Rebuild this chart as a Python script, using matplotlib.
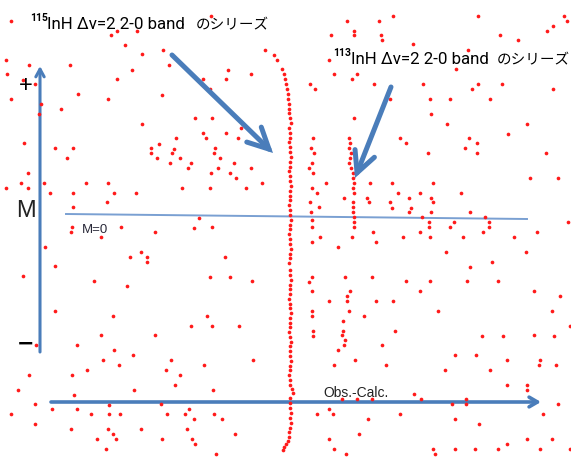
import matplotlib
matplotlib.use('Agg')
import matplotlib.pyplot as plt

# Loomis-Wood style plot: Obs.-Calc. (horizontal) against M (vertical)

# 115InH dv=2 2-0 band series (the long, nearly vertical chain)
series115_x = [265, 274, 277, 282, 284, 285, 286, 287, 288, 288,
               289, 289, 289, 290, 291, 289, 290, 290, 289, 290,
               290, 291, 290, 290, 289, 290, 290, 291, 290, 290,
               290, 289, 290, 290, 291, 290, 290, 289, 290, 290,
               291, 290, 290, 289, 290, 290, 291, 290, 290, 290,
               289, 290, 290, 291, 290, 290, 290, 289, 290, 291,
               290, 290, 290, 291, 290, 290, 289, 290, 290, 292,
               293, 290, 290, 290, 291, 290, 291, 290, 289, 289,
               288, 286, 284, 283]
series115_y = [50, 55, 60, 69, 74, 79, 84, 89, 94, 99,
               104, 109, 113, 118, 123, 128, 133, 138, 142, 147,
               152, 157, 162, 167, 171, 176, 181, 186, 191, 196,
               200, 205, 210, 215, 220, 225, 229, 234, 239, 244,
               249, 254, 258, 263, 270, 275, 280, 285, 289, 294,
               299, 304, 308, 313, 318, 323, 327, 332, 337, 342,
               346, 351, 356, 361, 366, 370, 375, 380, 385, 389,
               393, 398, 403, 408, 413, 418, 423, 428, 432, 437,
               441, 444, 447, 450]

# 113InH dv=2 2-0 band series
series113_x = [354, 349, 350, 349, 351, 350, 349, 351, 353, 353, 354, 353, 354,
               353, 353, 353, 354, 354, 354, 352, 345, 350, 347, 347, 349, 343,
               343, 342, 345, 344, 338]
series113_y = [118, 138, 143, 148, 153, 158, 163, 168, 173, 178, 183, 188, 193,
               202, 207, 212, 217, 222, 227, 237, 277, 291, 296, 301, 311, 321,
               331, 335, 340, 345, 350]

# short chain next to the main series
side_x = [313, 311, 314, 312, 309, 313, 312, 317, 310, 319, 311,
          312, 312, 320, 312, 312, 309, 312, 312, 312, 313, 313]
side_y = [138, 148, 153, 163, 168, 173, 188, 193, 202, 207, 212,
          220, 227, 237, 242, 277, 282, 291, 311, 316, 331, 336]

# remaining unassigned lines
other_x = [11, 117, 111, 137, 125, 142, 163, 6, 29, 70, 169, 132, 7, 23, 35, 117,
           78, 162, 11, 108, 41, 61, 39, 142, 24, 176, 55, 73, 151, 159, 174, 151,
           172, 67, 157, 180, 170, 188, 28, 21, 44, 86, 108, 6, 28, 182, 50, 73,
           114, 136, 107, 73, 121, 72,
           211, 347, 379, 331, 354, 354, 329, 228, 251, 203, 226, 334, 352, 357,
           310, 315, 374, 210, 195, 212, 241, 203, 226, 206, 238, 215, 214, 220,
           234, 191, 218, 251, 211, 230, 236, 262, 326, 370, 210, 246, 344, 367,
           369, 199, 212, 194,
           393, 478, 564, 567, 553, 547, 381, 382, 500, 518, 413, 468, 456, 423,
           478, 472, 502, 553, 390, 430, 450, 490, 431, 447, 527, 508, 400, 406,
           469, 465, 477, 477, 428, 546, 530, 558, 392, 433, 398, 420, 461, 409,
           431, 390, 433, 392, 411, 409, 431, 470, 422, 485, 429, 454, 489, 568,
           429, 450, 489,
           71, 101, 155, 45, 130, 141, 147, 147, 55, 23, 94, 127, 55, 113, 101,
           155, 36, 77, 114, 133, 103, 119, 171, 87, 166, 72, 29, 180, 175, 18,
           134, 74, 35, 109, 161, 52, 77, 11, 91, 109, 120, 167, 185, 189, 35,
           71, 108, 141, 187, 113, 116, 97, 162, 106,
           225, 210, 230, 252, 207, 191, 212, 239, 204, 253, 213, 373, 338, 376,
           372, 329, 376, 364, 334, 355, 342, 357, 372, 329, 317, 333, 368, 194,
           214, 222, 235, 192, 195, 216, 329, 359, 334, 346,
           403, 420, 430, 463, 483, 514, 537, 446, 526, 492, 470, 406, 430, 467,
           498, 420, 534, 560, 393, 438, 552, 570, 395, 482, 503, 534, 554, 382,
           455, 476, 507, 540, 539, 556, 386, 445, 490, 507, 527, 527, 414, 421,
           452, 466, 466, 558, 400, 543, 455, 479, 527, 552, 507, 433, 435, 455,
           475, 498, 540, 570]
other_y = [21, 31, 35, 31, 45, 54, 50, 60, 65, 65, 65, 70, 74, 80, 84, 79,
           94, 95, 99, 99, 104, 109, 114, 124, 143, 138, 148, 148, 148, 144, 149, 153,
           153, 158, 158, 158, 163, 168, 173, 183, 183, 183, 183, 188, 188, 188, 193, 193,
           193, 193, 202, 207, 227, 227,
           16, 21, 21, 35, 31, 35, 60, 70, 74, 79, 79, 74, 79, 74,
           84, 89, 84, 89, 118, 118, 128, 133, 133, 138, 138, 148, 153, 158,
           163, 163, 168, 168, 173, 173, 178, 183, 183, 183, 188, 188, 198, 198,
           202, 218, 227, 228,
           16, 16, 16, 21, 26, 31, 35, 40, 35, 40, 44, 50, 69, 84,
           84, 89, 84, 89, 99, 99, 99, 99, 114, 124, 124, 134, 138, 143,
           138, 148, 143, 153, 153, 153, 178, 178, 183, 183, 193, 193, 193, 198,
           198, 202, 202, 208, 208, 212, 212, 212, 217, 217, 222, 222, 222, 222,
           227, 227, 227,
           232, 237, 232, 247, 257, 252, 257, 262, 266, 276, 281, 286, 311, 316, 335,
           335, 345, 345, 350, 355, 360, 365, 360, 370, 370, 375, 375, 375, 385, 390,
           390, 395, 404, 405, 404, 409, 409, 414, 414, 414, 414, 414, 414, 409, 424,
           429, 429, 429, 429, 434, 439, 439, 439, 449,
           257, 277, 277, 281, 316, 326, 326, 326, 365, 360, 390, 232, 247, 242,
           277, 301, 301, 316, 365, 360, 399, 399, 399, 409, 414, 414, 419, 419,
           414, 419, 434, 439, 444, 454, 439, 434, 449, 454,
           237, 232, 237, 237, 232, 237, 232, 252, 252, 262, 267, 281, 281, 281,
           281, 291, 291, 296, 301, 311, 311, 326, 331, 336, 336, 335, 336, 345,
           355, 355, 360, 360, 365, 365, 365, 370, 370, 385, 385, 390, 394, 399,
           404, 399, 404, 404, 414, 414, 419, 424, 439, 439, 444, 449, 454, 449,
           449, 449, 449, 449]

blue = '#4a7dba'
dot_color = '#ff1a1a'

fig = plt.figure(figsize=(5.71, 4.57), dpi=100)
ax = fig.add_axes([0, 0, 1, 1])
ax.set_xlim(0, 571)
ax.set_ylim(457, 0)
ax.axis('off')

# hand-drawn axes: M upwards, Obs.-Calc. to the right
ax.annotate('', xy=(40, 66), xytext=(40, 352),
            arrowprops=dict(arrowstyle='->,head_length=0.55,head_width=0.3',
                            color=blue, lw=2.2, shrinkA=0, shrinkB=0))
ax.annotate('', xy=(541, 402), xytext=(51, 402),
            arrowprops=dict(arrowstyle='->,head_length=0.6,head_width=0.35',
                            color=blue, lw=2.6, shrinkA=0, shrinkB=0))
ax.plot([66, 527], [214, 219], color='#7aa0d2', lw=1.4, zorder=1)

ax.scatter(other_x, other_y, s=7, color=dot_color, linewidths=0, zorder=3)
ax.scatter(side_x, side_y, s=7, color=dot_color, linewidths=0, zorder=3)
ax.scatter(series113_x, series113_y, s=7, color=dot_color, linewidths=0, zorder=3)
ax.scatter(series115_x, series115_y, s=7, color=dot_color, linewidths=0, zorder=3)

# arrows pointing at the two series
for start, end in [((172, 55), (273, 153)), ((391, 87), (355, 178))]:
    ax.annotate('', xy=end, xytext=start,
                arrowprops=dict(arrowstyle='->,head_length=1.5,head_width=0.75',
                                color=blue, lw=3.6, shrinkA=0, shrinkB=0,
                                joinstyle='miter'), zorder=4)

latin = ['Roboto', 'DejaVu Sans']
jp = ['Noto Sans CJK JP', 'DejaVu Sans']

ax.text(30, 21, '115', fontsize=7.5, fontweight='bold', family=latin,
        ha='left', va='baseline', zorder=5)
ax.text(47, 29, 'InH Δv=2 2-0 band', fontsize=12.2, family=latin,
        ha='left', va='baseline', zorder=5)
ax.text(196, 29, 'のシリーズ', fontsize=10.5, family=jp,
        ha='left', va='baseline', zorder=5)

ax.text(333, 56, '113', fontsize=7.5, fontweight='bold', family=latin,
        ha='left', va='baseline', zorder=5)
ax.text(351, 64, 'InH Δv=2 2-0 band', fontsize=12.2, family=latin,
        ha='left', va='baseline', zorder=5)
ax.text(497, 64, 'のシリーズ', fontsize=10.5, family=jp,
        ha='left', va='baseline', zorder=5)

ax.text(26, 86, '+', fontsize=17, family='Liberation Sans', color='black',
        ha='center', va='center')
ax.text(26, 211, 'M', fontsize=17, family='Liberation Sans', color='#222222',
        ha='center', va='center')
ax.text(26, 344, '−', fontsize=15, fontweight='bold', family='DejaVu Sans',
        color='black', ha='center', va='center')
ax.text(82, 233, 'M=0', fontsize=9.5, family='Liberation Sans', color='#2a2a3a',
        ha='left', va='baseline')
ax.text(323, 397, 'Obs.-Calc.', fontsize=10, family='Liberation Sans',
        color='#222222', ha='left', va='baseline')

fig.savefig('out.png', dpi=100)
